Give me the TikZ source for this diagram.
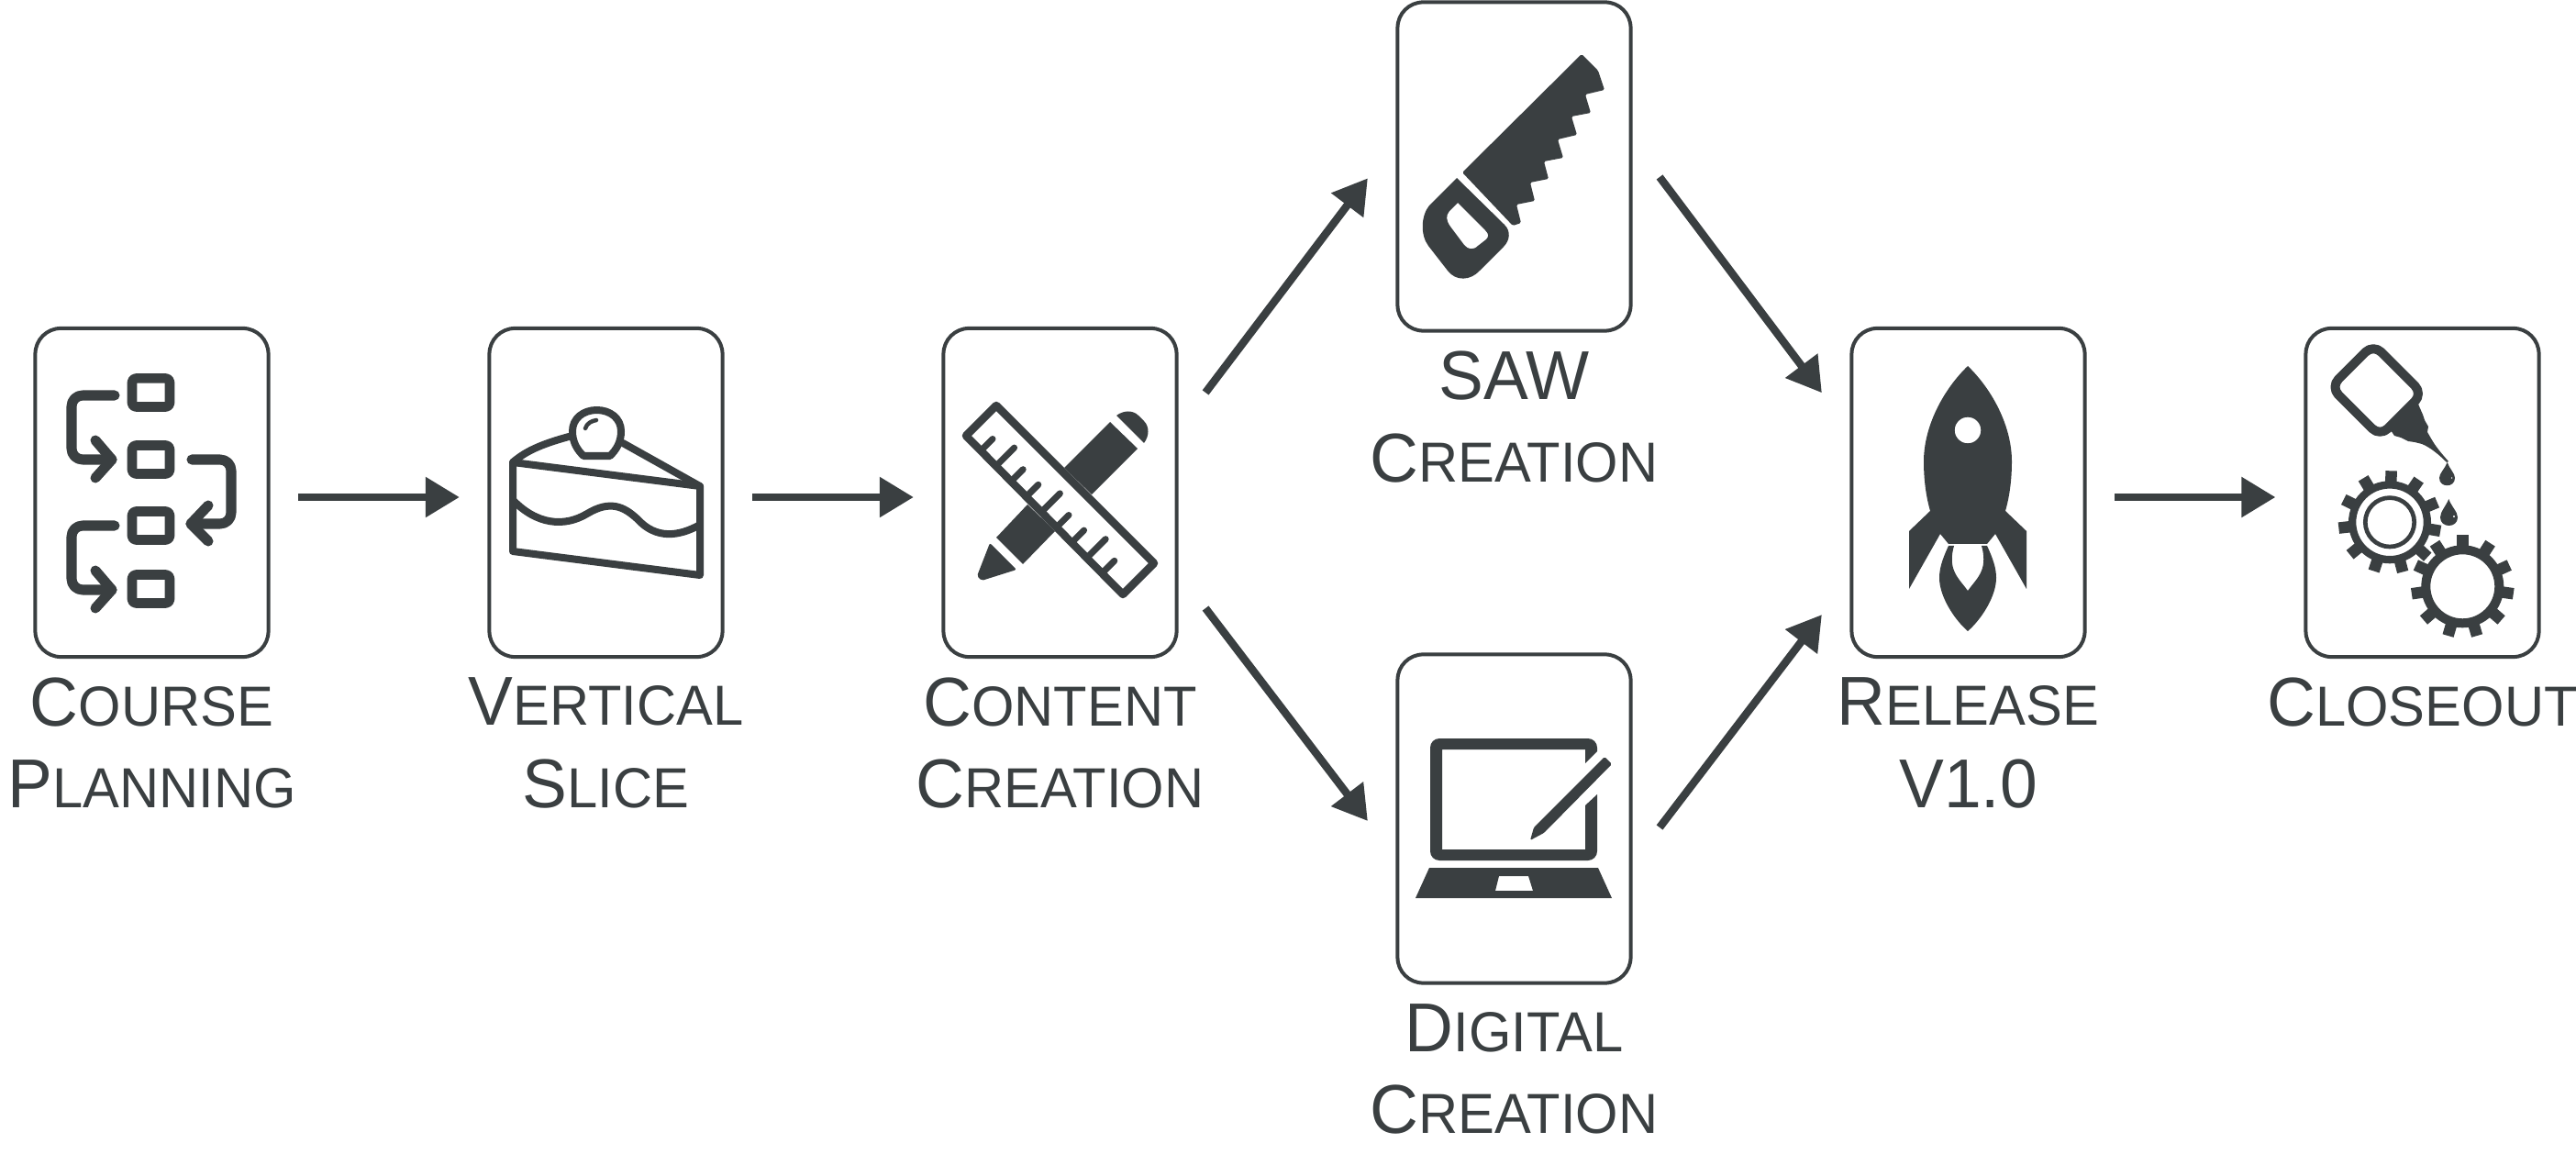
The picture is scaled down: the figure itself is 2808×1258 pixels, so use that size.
\documentclass[tikz,border=0pt]{standalone}
\usepackage{fontspec}
\setmainfont[FakeStretch=0.97]{Liberation Sans}
\usetikzlibrary{positioning,arrows.meta}
\definecolor{ink}{HTML}{3A3F41}
\newcommand{\capword}[2]{{\fontsize{21.45}{25.4}\selectfont #1}{\fontsize{17.5}{25.4}\selectfont #2}}
\tikzset{
    card/.style={draw=ink, line width=0.04cm, rectangle, rounded corners=0.28cm, inner sep=0, outer sep=0, minimum width=2.54cm, minimum height=3.58cm},
    caption/.style={text=ink, align=center, inner sep=0, font=\fontsize{21.45}{25.4}\selectfont},
    flow/.style={draw=ink, line width=0.085cm, -{Triangle[length=0.37cm,width=0.42cm]}},
    iconline/.style={draw=ink, line width=0.11cm, line cap=round, line join=round},
    iconfill/.style={fill=ink, even odd rule}
}

\begin{document}
\begin{tikzpicture}[x=0.01cm, y=-0.01cm]
    \useasboundingbox (0,0) rectangle (2808,1258);

    % cards
    \node[card] (planning) at (165.5,537) {};
    \node[card] (slice) at (660.5,537) {};
    \node[card] (content) at (1155.5,537) {};
    \node[card] (saw) at (1650.5,181.5) {};
    \node[card] (digital) at (1650.5,892.5) {};
    \node[card] (release) at (2145.5,537) {};
    \node[card] (closeout) at (2640.5,537) {};

    % captions
    \node[caption, below=0.22cm of planning] (planningtext) {\capword{C}{OURSE}\\\capword{P}{LANNING}};
    \node[caption, below=0.22cm of slice] (slicetext) {\capword{V}{ERTICAL}\\\capword{S}{LICE}};
    \node[caption, below=0.22cm of content] (contenttext) {\capword{C}{ONTENT}\\\capword{C}{REATION}};
    \node[caption, below=0.22cm of saw] (sawtext) {\capword{SAW}{}\\\capword{C}{REATION}};
    \node[caption, below=0.22cm of digital] (digitaltext) {\capword{D}{IGITAL}\\\capword{C}{REATION}};
    \node[caption, below=0.22cm of release] (releasetext) {\capword{R}{ELEASE}\\\capword{V1.0}{}};
    \node[caption, below=0.22cm of closeout] (closeouttext) {\capword{C}{LOSEOUT}};

    % arrows
    \draw[flow] ([xshift=0.325cm,yshift=-0.05cm]planning.east) -- ([xshift=-0.325cm,yshift=-0.05cm]slice.west);
    \draw[flow] ([xshift=0.325cm,yshift=-0.05cm]slice.east) -- ([xshift=-0.325cm,yshift=-0.05cm]content.west);
    \draw[flow] ([xshift=0.315cm,yshift=1.09cm]content.east) -- ([xshift=-0.325cm,yshift=-0.128cm]saw.west);
    \draw[flow] ([xshift=0.315cm,yshift=-1.26cm]content.east) -- ([xshift=-0.325cm,yshift=-0.025cm]digital.west);
    \draw[flow] ([xshift=0.315cm,yshift=-0.115cm]saw.east) -- ([xshift=-0.325cm,yshift=1.087cm]release.west);
    \draw[flow] ([xshift=0.315cm,yshift=-0.095cm]digital.east) -- ([xshift=-0.325cm,yshift=-1.33cm]release.west);
    \draw[flow] ([xshift=0.325cm,yshift=-0.05cm]release.east) -- ([xshift=-0.33cm,yshift=-0.05cm]closeout.west);

    % flow chart icon
    \foreach \y in {407,480,552,621}
        \draw[iconline, line width=0.105cm, rounded corners=0.04cm] (144,\y+5.5) rectangle (185,\y+36.5);
    \foreach \y in {0,142} {
        \draw[iconline, rounded corners=0.12cm] (125,431+\y) -- (78,431+\y) -- (78,501+\y) -- (122,501+\y);
        \draw[iconline] (104,480+\y) -- (122,501+\y) -- (104,521+\y);
    }
    \draw[iconline, rounded corners=0.12cm] (209,501) -- (252,501) -- (252,571) -- (208,571);
    \draw[iconline] (227,551) -- (208,571) -- (227,590);

    % cake icon
    \draw[iconline, line width=0.08cm] (559,504) -- (763,530) -- (763,627) -- (559,601) -- cycle;
    \draw[iconline, line width=0.08cm] (559,545) .. controls (585,572) and (615,575) .. (640,560) .. controls (665,545) and (680,552) .. (695,566) .. controls (715,588) and (740,585) .. (763,572);
    \draw[iconline, line width=0.08cm] (559,504) .. controls (575,490) and (595,483) .. (620,476);
    \draw[iconline, line width=0.08cm] (679,483) -- (763,530);
    \draw[iconline, line width=0.08cm] (636,497) .. controls (629,490) and (624,482) .. (624,470) .. controls (624,456) and (636,447) .. (650.5,447) .. controls (665,447) and (677,456) .. (677,470) .. controls (677,482) and (672,490) .. (665,497) -- cycle;
    \draw[iconline, line width=0.045cm] (638,467) .. controls (640,461) and (645,459) .. (650,458);

    % ruler and pencil icon
    \fill[iconfill] (1160,510) -- (1210,460) -- (1240,489) -- (1190,539) -- cycle;
    \fill[iconfill] (1120,550) -- (1150,579) -- (1115,615) -- (1086,586) -- cycle;
    \fill[iconfill] (1217,453) .. controls (1225,447) and (1235,447) .. (1241,453) -- (1247,459) .. controls (1253,465) and (1253,475) .. (1247,483) -- cycle;
    \fill[iconfill, rounded corners=0.02cm] (1079,592) -- (1108,621) -- (1070,633) -- (1065,628) -- cycle;
    \draw[iconline, line width=0.085cm] (1086,442) -- (1053,475) -- (1224,648) -- (1258,614) -- cycle;
    \foreach \i/\len in {0/12,1/19,2/12,3/12,4/19,5/12,6/12,7/19,8/12}
        \draw[iconline, line width=0.07cm] (1070+16.6*\i,490.5+16.6*\i) -- ++(\len,-\len);

    % saw icon
    \fill[iconfill, rounded corners=0.015cm] (1594,188) -- (1724,59) -- (1742,77) -- (1749,98) -- (1728,103) -- (1734,123) -- (1713,127) -- (1719,147) -- (1698,152) -- (1704,172) -- (1683,176) -- (1688,195) -- (1668,199) -- (1673,219) -- (1653,223) -- (1658,243) -- (1649,246) -- cycle;
    \fill[iconfill] (1588,194) -- (1640,245) .. controls (1647,252) and (1646,262) .. (1639,269) -- (1613,295) .. controls (1603,306) and (1587,307) .. (1578,295) -- (1557,268) .. controls (1548,256) and (1549,235) .. (1558,224) -- cycle
        (1589,221) -- (1619,251) .. controls (1623,255) and (1623,258) .. (1620,261) -- (1611,268) .. controls (1606,273) and (1600,272) .. (1596,267) -- (1581,247) .. controls (1576,240) and (1576,235) .. (1580,230) -- cycle;

    % laptop icon
    \fill[iconfill] (1741,866) [rounded corners=0.1cm] -- (1741,938) -- (1559,938) -- (1559,805) -- (1741,805) [sharp corners] -- (1741,819) -- (1728,832) -- (1728,817) -- (1572,817) -- (1572,926) -- (1728,926) -- (1728,878) -- cycle;
    \fill[iconfill, rounded corners=0.015cm] (1749,825) -- (1757,833) -- (1683,908) -- (1668,916) -- (1672,902) -- cycle;
    \fill[iconfill] (1558,946) -- (1742,946) -- (1757,979) -- (1543,979) -- cycle
        (1634,955) -- (1666,955) -- (1671,971) -- (1630,971) -- cycle;

    % rocket icon
    \fill[iconfill] (2145,399) .. controls (2118,425) and (2097,465) .. (2097,503) .. controls (2097,525) and (2100,543) .. (2104,557) -- (2081,579) -- (2081,642) -- (2115,582) -- (2124,593) -- (2166,593) -- (2175,582) -- (2209,642) -- (2209,579) -- (2186,557) .. controls (2190,543) and (2193,525) .. (2193,503) .. controls (2193,465) and (2172,425) .. (2145,399) -- cycle
        (2145,469) circle[radius=14.3];
    \fill[iconfill] (2124,595) .. controls (2117,610) and (2114,620) .. (2114,630) .. controls (2114,650) and (2130,675) .. (2145,688) .. controls (2160,675) and (2176,650) .. (2176,630) .. controls (2176,620) and (2173,610) .. (2166,595) -- (2160,595) .. controls (2163,605) and (2163,615) .. (2160,622) .. controls (2157,630) and (2150,637) .. (2145,644) .. controls (2140,637) and (2133,630) .. (2130,622) .. controls (2127,615) and (2127,605) .. (2130,595) -- cycle;

    % oil can and gears icon
    \draw[iconline, line width=0.1cm, rounded corners=0.12cm] (2640.9,429.1) -- (2594.3,475.7) -- (2540.5,421.9) -- (2587.1,375.3) -- cycle;
    \fill[iconfill] (2604,466) -- (2634,436) -- (2641,452) -- (2643,458) -- (2647,465) -- (2646,471) -- (2650,478) .. controls (2655,487) and (2662,495) .. (2669,503) -- (2667,504) .. controls (2660,497) and (2650,488) .. (2640,484) -- (2632,482) -- (2625,481) -- (2617,477) -- (2610,475) -- cycle;
    \fill[iconfill] (2667.7,504) .. controls (2665,511) and (2659,516) .. (2659,521) .. controls (2659,532) and (2676,532) .. (2676,521) .. controls (2676,516) and (2670,511) .. (2667.7,504) -- cycle
        (2672.5,521) circle[radius=1];
    \fill[iconfill] (2669.3,544) .. controls (2666,552) and (2660,558) .. (2660,564) .. controls (2660,576) and (2679,576) .. (2679,564) .. controls (2679,558) and (2672,552) .. (2669.3,544) -- cycle
        (2675,563) circle[radius=1.3];
    \draw[draw=ink, line width=0.083cm] (2605,569.3) circle[radius=40.85];
    \draw[draw=ink, line width=0.047cm] (2605,569.3) circle[radius=26.7];
    \foreach \i in {0,...,10}
        \draw[draw=ink, line width=0.125cm] (2605,569.3) ++(271.7+\i*32.727:42) -- ++(271.7+\i*32.727:14);
    \draw[draw=ink, line width=0.1cm] (2684.3,639.3) circle[radius=40];
    \foreach \i in {0,...,10}
        \draw[draw=ink, line width=0.125cm] (2684.3,639.3) ++(270+\i*32.727:42) -- ++(270+\i*32.727:14);
\end{tikzpicture}
\end{document}
